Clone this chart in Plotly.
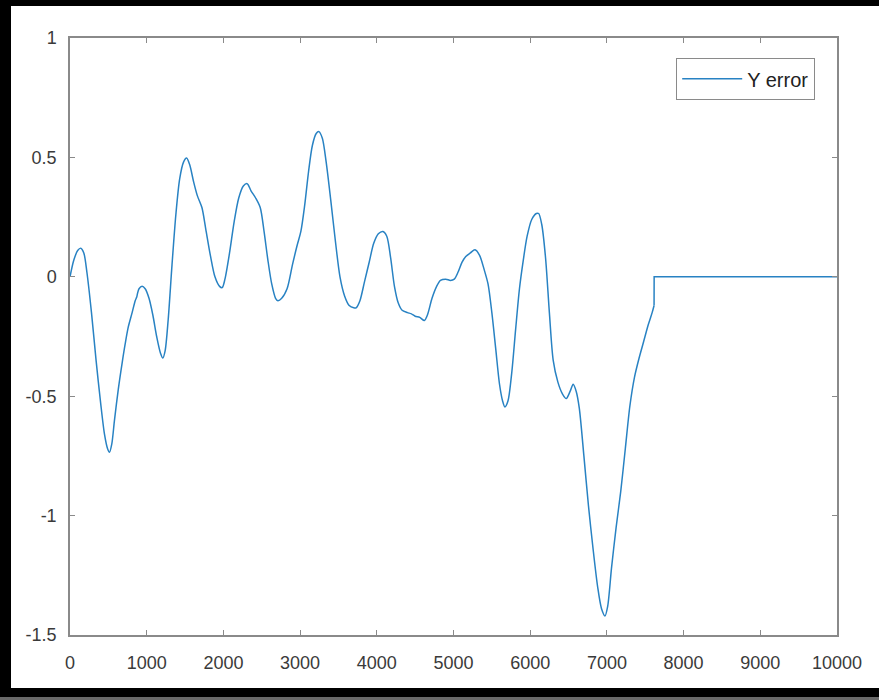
import plotly.graph_objects as go

# Data (x = sample index, y = error)
x_vals = [0, 50, 100, 140, 180, 220, 280, 340, 400, 450, 490, 515, 545, 580, 630, 680, 720, 760,
          810, 850, 870, 880, 900, 940, 980, 1030, 1080, 1130, 1180, 1210, 1240, 1280, 1330, 1380,
          1430, 1480, 1520, 1560, 1610, 1660, 1720, 1770, 1830, 1890, 1950, 1985, 2020, 2080, 2140,
          2200, 2260, 2310, 2360, 2420, 2480, 2530, 2580, 2630, 2680, 2710, 2760, 2830, 2900, 2960,
          3010, 3060, 3110, 3160, 3210, 3245, 3290, 3340, 3400, 3460, 3520, 3580, 3640, 3700, 3730,
          3780, 3840, 3900, 3960, 4020, 4080, 4130, 4180, 4230, 4280, 4330, 4400, 4450, 4500, 4560,
          4620, 4660, 4720, 4780, 4830, 4900, 4960, 5010, 5060, 5110, 5160, 5220, 5280, 5340, 5400,
          5450, 5500, 5550, 5600, 5640, 5670, 5710, 5760, 5810, 5860, 5910, 5960, 6020, 6080, 6110,
          6150, 6200, 6250, 6300, 6360, 6420, 6470, 6520, 6560, 6600, 6640, 6700, 6760, 6820, 6880,
          6930, 6975, 7010, 7060, 7120, 7180, 7240, 7300, 7360, 7420, 7480, 7540, 7590, 7615, 7616,
          10000]
y_vals = [0.0, 0.07, 0.11, 0.12, 0.10, 0.02, -0.15, -0.35, -0.53, -0.66, -0.72, -0.735, -0.70,
          -0.60, -0.47, -0.36, -0.28, -0.21, -0.15, -0.10, -0.085, -0.07, -0.05, -0.04, -0.05,
          -0.09, -0.16, -0.25, -0.32, -0.34, -0.31, -0.18, 0.05, 0.26, 0.41, 0.48, 0.497, 0.47,
          0.40, 0.34, 0.29, 0.20, 0.09, 0.00, -0.04, -0.045, -0.01, 0.10, 0.23, 0.33, 0.38, 0.39,
          0.36, 0.33, 0.29, 0.19, 0.07, -0.03, -0.09, -0.10, -0.09, -0.05, 0.05, 0.13, 0.19, 0.30,
          0.44, 0.55, 0.60, 0.608, 0.58, 0.48, 0.32, 0.15, 0.00, -0.08, -0.12, -0.13, -0.13, -0.10,
          -0.02, 0.06, 0.14, 0.18, 0.19, 0.17, 0.08, -0.04, -0.11, -0.14, -0.15, -0.155, -0.165,
          -0.17, -0.183, -0.16, -0.09, -0.04, -0.015, -0.01, -0.015, -0.01, 0.02, 0.06, 0.085,
          0.10, 0.113, 0.09, 0.03, -0.03, -0.15, -0.30, -0.45, -0.52, -0.545, -0.52, -0.40, -0.22,
          -0.05, 0.07, 0.17, 0.24, 0.265, 0.265, 0.22, 0.08, -0.15, -0.35, -0.44, -0.49, -0.51,
          -0.48, -0.45, -0.48, -0.55, -0.75, -0.96, -1.14, -1.30, -1.39, -1.42, -1.38, -1.22,
          -1.05, -0.90, -0.72, -0.54, -0.42, -0.34, -0.27, -0.20, -0.15, -0.12, 0.0, 0.0]

x_ticks = [0, 1000, 2000, 3000, 4000, 5000, 6000, 7000, 8000, 9000, 10000]
x_tick_text = ["0", "1000", "2000", "3000", "4000", "5000", "6000", "7000", "8000", "9000", "10000"]
y_ticks = [-1.5, -1, -0.5, 0, 0.5, 1]
y_tick_text = ["-1.5", "-1", "-0.5", "0", "0.5", "1"]
series_name = "Y error"

W, H = 879, 700
ML, MR, MT, MB = 70, 42, 38, 65
PW, PH = W - ML - MR, H - MT - MB

def px_x(p):
    return (p - ML) / PW

def px_y(p):
    return (H - MB - p) / PH

line_style = dict(color="rgb(40,130,195)", width=1.5)
# index where the signal jumps back to zero
jump = x_vals.index(7615)

fig = go.Figure()
# smooth part of the signal
fig.add_trace(go.Scatter(x=x_vals[:jump + 1], y=y_vals[:jump + 1], mode="lines",
                         name=series_name, line=dict(shape="spline", smoothing=0.8, **line_style),
                         legendgroup="e"))
# jump and flat tail (same series, straight segments)
fig.add_trace(go.Scatter(x=x_vals[jump:], y=y_vals[jump:], mode="lines", name=series_name,
                         line=line_style, legendgroup="e", showlegend=False))

tick_font = dict(family="Liberation Sans, Arial, sans-serif", size=18, color="#3a3a3a")
axis_common = dict(showgrid=False, zeroline=False, showline=True, linecolor="#8a8a8a",
                   linewidth=1.5, ticks="inside", ticklen=5, tickcolor="#8a8a8a",
                   tickwidth=1.2, mirror="ticks", tickfont=tick_font)

fig.update_xaxes(range=[0, 10000], tickvals=x_ticks, ticktext=x_tick_text,
                 ticklabelstandoff=11, **axis_common)
fig.update_yaxes(range=[-1.5, 1], tickvals=y_ticks, ticktext=y_tick_text,
                 ticklabelstandoff=8, **axis_common)

# black photo frame (left, top, bottom)
shapes = [
    dict(type="rect", xref="paper", yref="paper", x0=px_x(0), x1=px_x(11), y0=px_y(700),
         y1=px_y(0), fillcolor="black", line=dict(width=0), layer="above"),
    dict(type="rect", xref="paper", yref="paper", x0=px_x(0), x1=px_x(879), y0=px_y(6),
         y1=px_y(0), fillcolor="black", line=dict(width=0), layer="above"),
    dict(type="rect", xref="paper", yref="paper", x0=px_x(0), x1=px_x(879), y0=px_y(697),
         y1=px_y(688), fillcolor="black", line=dict(width=0), layer="above"),
    dict(type="rect", xref="paper", yref="paper", x0=px_x(0), x1=px_x(879), y0=px_y(700),
         y1=px_y(697), fillcolor="#6a6a6a", line=dict(width=0), layer="above"),
]

fig.update_layout(
    width=W, height=H,
    margin=dict(l=ML, r=MR, t=MT, b=MB, pad=0),
    paper_bgcolor="white", plot_bgcolor="white",
    showlegend=True,
    legend=dict(x=px_x(815), y=px_y(58), xanchor="right", yanchor="top",
                bgcolor="white", bordercolor="#8a8a8a", borderwidth=1.2,
                font=dict(family="Liberation Sans, Arial, sans-serif", size=20, color="#222"),
                itemwidth=60, tracegroupgap=0),
    shapes=shapes,
)

fig.write_html("out.html")
